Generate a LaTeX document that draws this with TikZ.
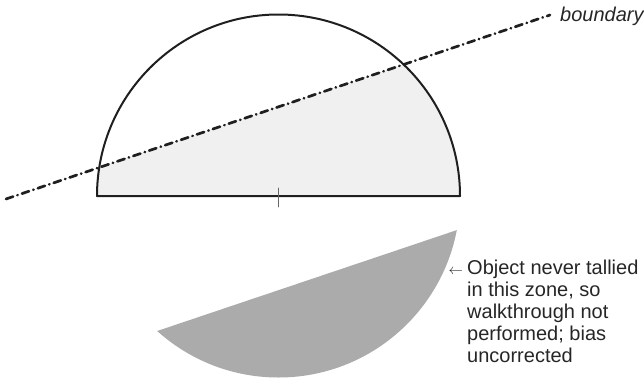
\documentclass[tikz,border=0pt]{standalone}
\usepackage{fontspec}
\setmainfont{Liberation Sans}
\usetikzlibrary{calc}

\begin{document}
\begin{tikzpicture}[x=1pt,y=-1pt,line cap=round,line join=round,
  outline/.style={draw=black!88,line width=2pt},
  lightzone/.style={fill=black!6},
  darkzone/.style={fill=black!33},
  note/.style={text=black!85,inner sep=0pt,font=\fontsize{20}{22}\selectfont}]
  \useasboundingbox (0,0) rectangle (644,383);
  % the boundary and the two sides of the half disc
  \coordinate (lineA) at (6,199);
  \coordinate (lineB) at (550,15);
  \coordinate (left) at (97,196);
  \coordinate (mid) at (278.5,196);
  % part of the upper half below the boundary
  \begin{scope}
    \clip (left) arc[start angle=180,end angle=360,radius=181.5] -- cycle;
    \fill[lightzone] (lineA) -- (lineB) -- (650,260) -- (0,260) -- cycle;
  \end{scope}
  % mirrored half, zone never tallied
  \begin{scope}
    \clip (left) arc[start angle=180,end angle=0,radius=181.5] -- cycle;
    \fill[darkzone] (90,353.6) -- (480,222.3) -- (480,400) -- (90,400) -- cycle;
  \end{scope}
  \draw[outline] (left) arc[start angle=180,end angle=360,radius=181.5] -- cycle;
  \draw[black!60,line width=.6pt] ($(mid)+(0,-8)$) -- ($(mid)+(0,11)$);
  \draw[black!88,line width=2.7pt,dash pattern=on 7.5pt off 4.5pt on 0.3pt off 4.5pt]
    (lineA) -- (lineB);
  \node[note,anchor=base west] (blabel) at (560,21.5) {\itshape boundary};
  \node[note,anchor=base west,align=left] (gapnote) at (467,362)
    {\llap{\fontsize{15}{15}\selectfont$\leftarrow$\ }Object never tallied\\in this zone, so\\walkthrough not\\performed; bias\\uncorrected};
\end{tikzpicture}
\end{document}
